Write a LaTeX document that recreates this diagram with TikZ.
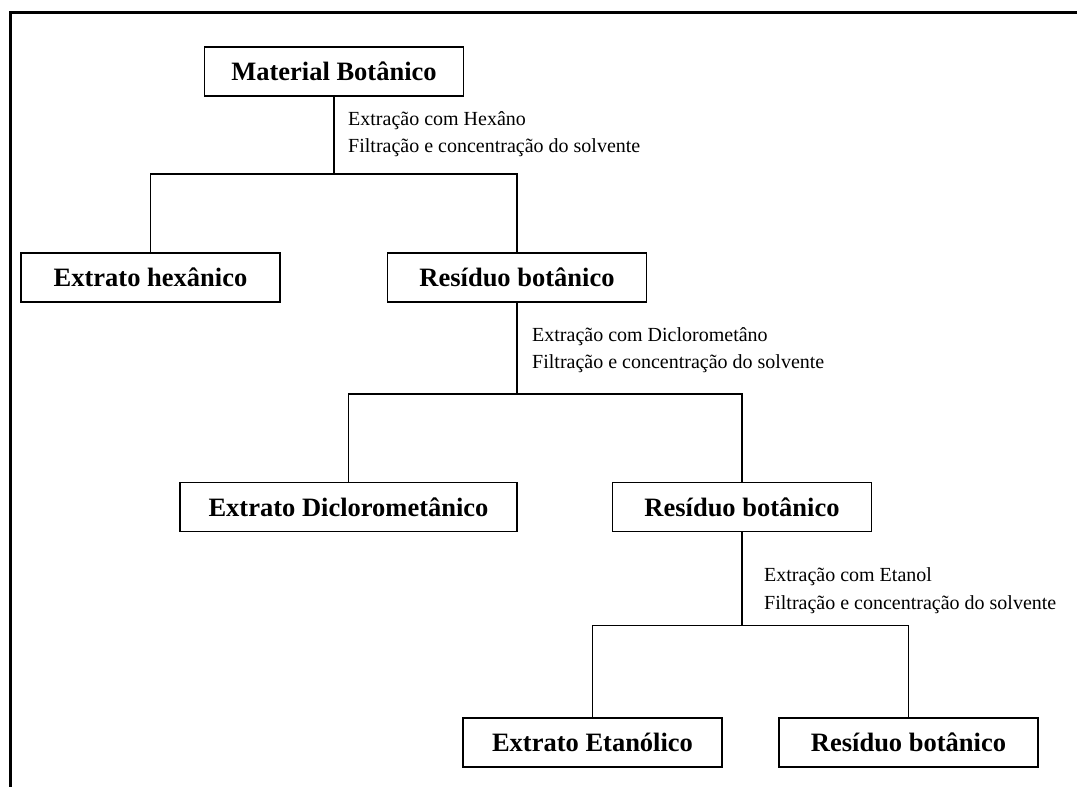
\documentclass[tikz,border=0pt]{standalone}
\usepackage{fontspec}
\setmainfont{Liberation Serif}
\usetikzlibrary{positioning}

\tikzset{
  caixa/.style={draw, line width=1.6pt, minimum width=259pt, minimum height=49pt,
    inner sep=0pt, font=\bfseries\fontsize{26.5}{30}\selectfont},
  etapa/.style={align=left, anchor=base west, inner sep=0pt,
    font=\fontsize{20}{27.5}\selectfont},
  liga/.style={line width=1.4pt}
}

\begin{document}
\begin{tikzpicture}[x=1pt, y=1pt, on grid]
        \useasboundingbox (0,0) rectangle (1077,-787);
        % Frame
        \draw[line width=3pt] (1080,-12.5) -- (10.5,-12.5) -- (10.5,-790);
        % Define the nodes
        \node[caixa] (mb) at (334,-71.5) {Material Botânico};
        \node[caixa] (hex) [below left=206pt and 183.5pt of mb] {Extrato hexânico};
        \node[caixa] (res1) [below right=206pt and 183pt of mb] {Resíduo botânico};
        \node[caixa, minimum width=337pt] (dcm) [below left=229.5pt and 168.5pt of res1] {Extrato Diclorometânico};
        \node[caixa] (res2) [below right=229.5pt and 225pt of res1] {Resíduo botânico};
        \node[caixa] (eta) [below left=235.5pt and 149.5pt of res2] {Extrato Etanólico};
        \node[caixa] (res3) [below right=235.5pt and 166.5pt of res2] {Resíduo botânico};
        % Split points
        \coordinate (b1) at ([yshift=-77pt]mb.south);
        \coordinate (b2) at ([yshift=-91pt]res1.south);
        \coordinate (b3) at ([yshift=-93pt]res2.south);
        % Define the steps
        \node[etapa] (t1) at ([xshift=14pt, yshift=-56pt]mb.south)
          {Extração com Hexâno\\Filtração e concentração do solvente};
        \node[etapa] (t2) at ([xshift=15pt, yshift=-66pt]res1.south)
          {Extração com Diclorometâno\\Filtração e concentração do solvente};
        \node[etapa] (t3) at ([xshift=22pt, yshift=-77pt]res2.south)
          {Extração com Etanol\\Filtração e concentração do solvente};
        % Define the connections
        \draw[liga] (mb) -- (b1) -| (hex);
        \draw[liga] (b1) -| (res1);
        \draw[liga] (res1) -- (b2) -| (dcm);
        \draw[liga] (b2) -| (res2);
        \draw[liga] (res2) -- (b3) -| (eta);
        \draw[liga] (b3) -| (res3);
\end{tikzpicture}
\end{document}
